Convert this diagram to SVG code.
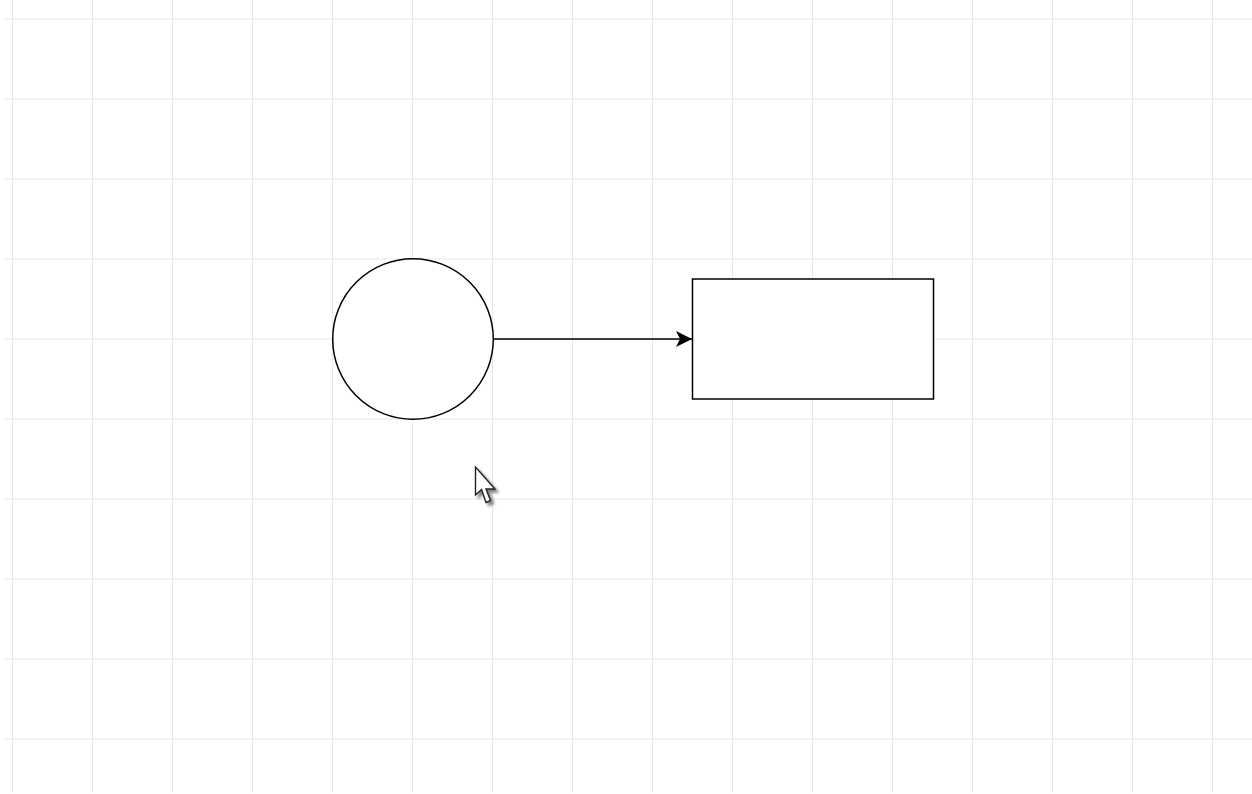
<svg xmlns="http://www.w3.org/2000/svg" width="1252" height="794" viewBox="0 0 1252 794">
  <defs>
    <style>
      .grid line { stroke: #e8e8e8; stroke-width: 1; }
      .shape { fill: #ffffff; stroke: #000000; stroke-width: 1.5; }
      .edge { fill: none; stroke: #000000; stroke-width: 1.5; }
    </style>
    <marker id="arrow" markerUnits="userSpaceOnUse" markerWidth="20" markerHeight="20" refX="16" refY="8" orient="auto">
      <path d="M0,0 L16,8 L0,16 L4,8 Z" fill="#000000"/>
    </marker>
    <filter id="shadow" x="-50%" y="-50%" width="200%" height="200%">
      <feGaussianBlur in="SourceAlpha" stdDeviation="1.8"/>
      <feOffset dx="2.5" dy="2.5" result="b"/>
      <feComponentTransfer><feFuncA type="linear" slope="0.5"/></feComponentTransfer>
      <feMerge><feMergeNode/><feMergeNode in="SourceGraphic"/></feMerge>
    </filter>
  </defs>
  <rect x="0" y="0" width="1252" height="794" fill="#ffffff"/>
  <g id="grid" class="grid">
    <line x1="12.5" y1="0" x2="12.5" y2="793"/>
    <line x1="92.5" y1="0" x2="92.5" y2="793"/>
    <line x1="172.5" y1="0" x2="172.5" y2="793"/>
    <line x1="252.5" y1="0" x2="252.5" y2="793"/>
    <line x1="332.5" y1="0" x2="332.5" y2="793"/>
    <line x1="412.5" y1="0" x2="412.5" y2="793"/>
    <line x1="492.5" y1="0" x2="492.5" y2="793"/>
    <line x1="572.5" y1="0" x2="572.5" y2="793"/>
    <line x1="652.5" y1="0" x2="652.5" y2="793"/>
    <line x1="732.5" y1="0" x2="732.5" y2="793"/>
    <line x1="812.5" y1="0" x2="812.5" y2="793"/>
    <line x1="892.5" y1="0" x2="892.5" y2="793"/>
    <line x1="972.5" y1="0" x2="972.5" y2="793"/>
    <line x1="1052.5" y1="0" x2="1052.5" y2="793"/>
    <line x1="1132.5" y1="0" x2="1132.5" y2="793"/>
    <line x1="1212.5" y1="0" x2="1212.5" y2="793"/>
    <line x1="5" y1="19" x2="1252" y2="19"/>
    <line x1="5" y1="99" x2="1252" y2="99"/>
    <line x1="5" y1="179" x2="1252" y2="179"/>
    <line x1="5" y1="259" x2="1252" y2="259"/>
    <line x1="5" y1="339" x2="1252" y2="339"/>
    <line x1="5" y1="419" x2="1252" y2="419"/>
    <line x1="5" y1="499" x2="1252" y2="499"/>
    <line x1="5" y1="579" x2="1252" y2="579"/>
    <line x1="5" y1="659" x2="1252" y2="659"/>
    <line x1="5" y1="739" x2="1252" y2="739"/>
  </g>
  <g id="connectors">
    <line class="edge" x1="493" y1="339" x2="692" y2="339" marker-end="url(#arrow)"/>
  </g>
  <g id="node-circle">
    <circle class="shape" cx="413" cy="339" r="80.3"/>
  </g>
  <g id="node-rect">
    <rect class="shape" x="692.5" y="279" width="241" height="120"/>
  </g>
  <g id="cursor" filter="url(#shadow)">
    <path d="M475.5,467 L475.5,495 L481.5,489.5 L486,502.5 L490.5,500.5 L486,489 L495,489 Z" fill="#ffffff" stroke="#222222" stroke-width="1.4" stroke-linejoin="miter"/>
  </g>
</svg>
